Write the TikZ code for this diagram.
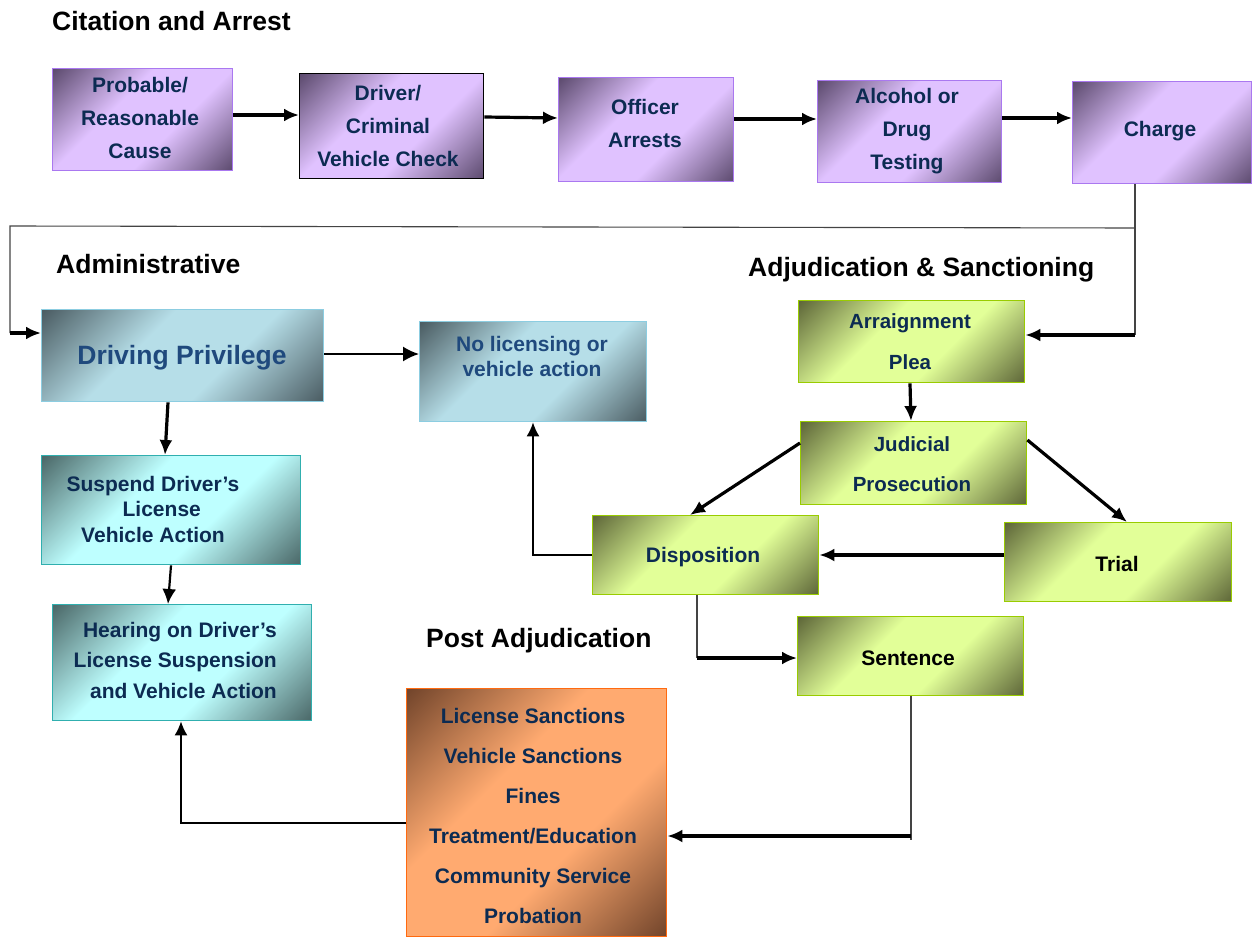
\documentclass[tikz,border=0pt]{standalone}
\usepackage{fontspec}
\setmainfont{Liberation Sans}
\usetikzlibrary{arrows.meta}
\definecolor{purplt}{HTML}{E0C2FF}
\definecolor{purpdk}{HTML}{5E4C70}
\definecolor{purpbd}{HTML}{AA78F0}
\definecolor{grnlt}{HTML}{E2FF98}
\definecolor{grndk}{HTML}{60693A}
\definecolor{grnbd}{HTML}{99CC00}
\definecolor{blult}{HTML}{B6DEE8}
\definecolor{bludk}{HTML}{4C5E64}
\definecolor{blubd}{HTML}{8CCDE1}
\definecolor{cyalt}{HTML}{BEFFFF}
\definecolor{cyadk}{HTML}{4C6A6A}
\definecolor{cyabd}{HTML}{30AFAF}
\definecolor{orglt}{HTML}{FFAA70}
\definecolor{orgdk}{HTML}{74462C}
\definecolor{orgbd}{HTML}{FF6A10}
\definecolor{navy}{HTML}{0C2B52}
\definecolor{dpblue}{HTML}{1F497D}
\definecolor{lngrey}{HTML}{444444}
\pgfdeclarehorizontalshading{purpsh}{100bp}{color(0bp)=(purpdk); color(15bp)=(purpdk); color(40bp)=(purplt); color(60bp)=(purplt); color(85bp)=(purpdk); color(100bp)=(purpdk)}
\pgfdeclarehorizontalshading{grnsh}{100bp}{color(0bp)=(grndk); color(15bp)=(grndk); color(40bp)=(grnlt); color(60bp)=(grnlt); color(85bp)=(grndk); color(100bp)=(grndk)}
\pgfdeclarehorizontalshading{blush}{100bp}{color(0bp)=(bludk); color(15bp)=(bludk); color(40bp)=(blult); color(60bp)=(blult); color(85bp)=(bludk); color(100bp)=(bludk)}
\pgfdeclarehorizontalshading{cyash}{100bp}{color(0bp)=(cyadk); color(15bp)=(cyadk); color(40bp)=(cyalt); color(60bp)=(cyalt); color(85bp)=(cyadk); color(100bp)=(cyadk)}
\pgfdeclarehorizontalshading{orgsh}{100bp}{color(0bp)=(orgdk); color(15bp)=(orgdk); color(40bp)=(orglt); color(60bp)=(orglt); color(85bp)=(orgdk); color(100bp)=(orgdk)}
\begin{document}
\begin{tikzpicture}[x=1pt,y=-1pt,
  box/.style={rectangle, anchor=north west, inner sep=0pt, line width=1.4pt, shading angle=-45},
  pbox/.style={box, draw=purpbd, shading=purpsh},
  gbox/.style={box, draw=grnbd, shading=grnsh},
  bbox/.style={box, draw=blubd, shading=blush},
  cbox/.style={box, draw=cyabd, shading=cyash},
  obox/.style={box, draw=orgbd, shading=orgsh},
  btxt/.style={align=center, inner sep=0pt, text=navy, font=\bfseries\fontsize{21}{33}\selectfont},
  hdr/.style={anchor=west, inner sep=0pt, font=\bfseries\fontsize{26.5}{30}\selectfont},
  arr/.style={line width=3.2pt, -{Latex[length=15pt,width=13pt]}},
  tarr/.style={line width=1.8pt, -{Latex[length=16pt,width=15pt]}},
  tln/.style={line width=1.1pt, draw=lngrey},
]
\path[use as bounding box] (0,0) rectangle (1253,937);

% headers
\node[hdr] (h1) at (52,21) {Citation and Arrest};
\node[hdr] (h2) at (56,264) {Administrative};
\node[hdr] (h3) at (748,270) {Adjudication \& Sanctioning};
\node[hdr] (h4) at (426,641) {Post Adjudication};

% row 1 (purple)
\node[pbox, minimum width=180pt, minimum height=102pt] (prob) at (52,68) {};
\node[btxt] (probT) at (140,118) {Probable/\\Reasonable\\Cause};
\node[pbox, draw=black, minimum width=184pt, minimum height=105pt] (drv) at (299,73) {};
\node[btxt] (drvT) at (388,126) {Driver/\\Criminal\\Vehicle Check};
\node[pbox, minimum width=175pt, minimum height=104pt] (off) at (558,77) {};
\node[btxt] (offT) at (645,123) {Officer\\Arrests};
\node[pbox, minimum width=184pt, minimum height=102pt] (alc) at (817,80) {};
\node[btxt] (alcT) at (907,131) {Alcohol or\\Drug\\Testing};
\node[pbox, minimum width=179pt, minimum height=102pt] (chg) at (1072,81) {};
\node[btxt] (chgT) at (1160,131) {Charge};

% administrative (blue / cyan)
\node[bbox, minimum width=282pt, minimum height=92pt] (dp) at (41,309) {};
\node[btxt, text=dpblue, font=\bfseries\fontsize{26.5}{30}\selectfont] (dpT) at (182,358) {Driving Privilege};
\node[bbox, minimum width=227pt, minimum height=100pt] (nl) at (419,321) {};
\node[btxt, text=dpblue, font=\bfseries\fontsize{21}{25}\selectfont] (nlT) at (532,356) {No licensing or\\vehicle action};
\node[cbox, minimum width=259pt, minimum height=109pt] (sus) at (41,455) {};
\node[btxt, font=\bfseries\fontsize{21}{25.5}\selectfont] (susT) at (153,509) {Suspend Driver's\\\ \ \ License\\Vehicle Action};
\node[cbox, minimum width=259pt, minimum height=116pt] (hear) at (52,604) {};
\node[btxt, align=right, anchor=east, font=\bfseries\fontsize{21}{30.5}\selectfont] (hearT) at (277,660) {Hearing on Driver's\\License Suspension\\and Vehicle Action};

% adjudication (green)
\node[gbox, minimum width=226pt, minimum height=82pt] (arg) at (798,300) {};
\node[btxt, font=\bfseries\fontsize{20.5}{41}\selectfont] (argT) at (910,342) {Arraignment\\Plea};
\node[gbox, minimum width=226pt, minimum height=83pt] (jud) at (800,421) {};
\node[btxt, font=\bfseries\fontsize{20.5}{40}\selectfont] (judT) at (912,464) {Judicial\\Prosecution};
\node[gbox, minimum width=226pt, minimum height=79pt] (disp) at (592,515) {};
\node[btxt] (dispT) at (703,557) {Disposition};
\node[gbox, minimum width=227pt, minimum height=79pt] (trial) at (1004,522) {};
\node[btxt, text=black] (trialT) at (1117,564) {Trial};
\node[gbox, minimum width=226pt, minimum height=79pt] (sent) at (797,616) {};
\node[btxt, text=black] (sentT) at (908,658) {Sentence};

% post adjudication (orange)
\node[obox, minimum width=260pt, minimum height=248pt] (org) at (406,688) {};
\node[btxt, font=\bfseries\fontsize{21}{40}\selectfont] (orgT) at (533,816) {License Sanctions\\Vehicle Sanctions\\Fines\\Treatment/Education\\Community Service\\Probation};

% row 1 arrows
\draw[arr] (prob.east |- 0,115) -- (drv.west |- 0,115);
\draw[arr] (drv.east |- 0,117) -- (off.west |- 0,118);
\draw[arr] (off.east |- 0,119) -- (alc.west |- 0,119);
\draw[arr] (alc.east |- 0,118) -- (chg.west |- 0,118);

% charge split
\coordinate (cs) at (1135,228);
\coordinate (cl) at (10,226);
\coordinate (cld) at (10,333);
\coordinate (crd) at (1135,335);
\draw[tln] (chg.south -| cs) -- (crd);
\draw[tln] (cs) -- (cl) -- (cld);
\draw[arr] (cld) -- (dp.west |- cld);
\draw[arr] (crd) -- (arg.east |- crd);

% administrative arrows
\draw[tarr] (dp.east |- 0,354) -- (nl.west |- 0,354);
\draw[arr] (dp.south -| 168,0) -- (sus.north -| 165,0);
\draw[line width=2.2pt, -{Latex[length=15pt,width=14pt]}] (sus.south -| 171,0) -- (hear.north -| 168,0);
\draw[line width=1.6pt, -{Latex[length=14pt,width=13pt]}] (org.west |- 0,823) -| (hear.south -| 181,0);

% adjudication arrows
\draw[arr] (arg.south -| 910,0) -- (jud.north -| 911,0);
\draw[arr] (jud.west |- 0,443) -- (disp.north -| 690,0);
\draw[arr] (jud.east |- 0,440) -- (trial.north -| 1127,0);
\draw[arr] (trial.west |- 0,555) -- (disp.east |- 0,555);
\coordinate (dsb) at (697,658);
\draw[tln] (disp.south -| dsb) -- (dsb);
\draw[arr] (dsb) -- (sent.west |- dsb);
\draw[line width=1.6pt, -{Latex[length=14pt,width=13pt]}] (disp.west |- 0,555) -| (nl.south -| 533,0);
\coordinate (ssb) at (911,840);
\coordinate (ssa) at (911,836);
\draw[tln] (sent.south -| ssb) -- (ssb);
\draw[arr] (ssa) -- (org.east |- ssa);
\end{tikzpicture}
\end{document}
